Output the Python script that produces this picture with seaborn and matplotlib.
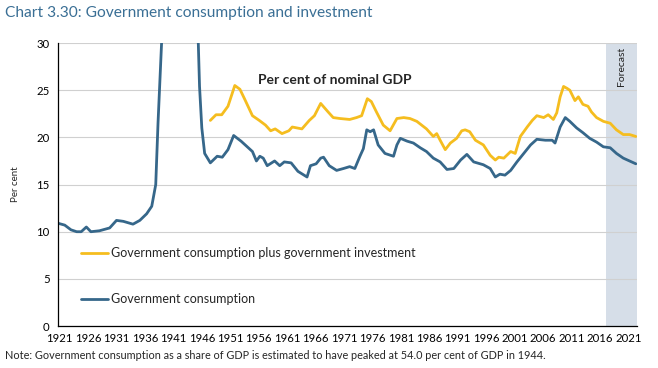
import numpy as np
import pandas as pd
import matplotlib
matplotlib.use("Agg")
import matplotlib.pyplot as plt
import seaborn as sns
from matplotlib.ticker import MultipleLocator

# government consumption, per cent of nominal GDP
gc_year = [1920.7, 1921.9, 1923.0, 1924.0, 1924.8, 1925.7, 1926.5, 1928.0, 1929.8, 1931.0,
           1932.2, 1933.9, 1935.1, 1936.3, 1937.2, 1937.9, 1938.3, 1939.0, 1940.0, 1941.0,
           1942.0, 1943.0, 1944.0, 1945.0, 1945.6, 1946.0, 1946.5, 1947.5, 1948.7, 1949.6,
           1950.6, 1951.6, 1952.9, 1954.9, 1955.6, 1956.2, 1956.8, 1957.5, 1958.8, 1959.7,
           1960.5, 1961.7, 1962.9, 1964.5, 1965.1, 1966.1, 1966.9, 1967.4, 1968.4, 1969.7,
           1970.9, 1972.0, 1972.9, 1973.8, 1974.4, 1975.0, 1975.6, 1976.2, 1977.0, 1978.2,
           1979.7, 1980.3, 1980.9, 1982.1, 1983.2, 1984.4, 1985.5, 1986.7, 1987.9, 1989.1,
           1990.3, 1991.5, 1992.6, 1993.8, 1995.5, 1996.7, 1997.6, 1998.4, 1999.3, 2000.3,
           2001.4, 2002.6, 2003.8, 2004.9, 2006.4, 2007.6, 2008.1, 2009.0, 2009.9, 2010.7,
           2011.9, 2013.0, 2014.2, 2015.4, 2016.6, 2017.8, 2018.9, 2020.1, 2022.3]
gc_val = [10.9, 10.7, 10.2, 10.0, 10.0, 10.5, 10.0, 10.1, 10.4, 11.2,
          11.1, 10.8, 11.2, 11.9, 12.7, 15.0, 21.5, 31.0, 45.0, 52.0,
          53.0, 53.5, 54.0, 38.0, 25.4, 21.0, 18.3, 17.3, 18.0, 17.9,
          18.7, 20.2, 19.6, 18.5, 17.5, 18.0, 17.8, 17.0, 17.5, 17.0,
          17.4, 17.3, 16.4, 15.8, 17.0, 17.2, 17.8, 17.9, 17.0, 16.5,
          16.7, 16.9, 16.7, 18.0, 18.8, 20.8, 20.6, 20.8, 19.2, 18.3,
          18.0, 19.2, 19.9, 19.6, 19.4, 18.9, 18.5, 17.8, 17.4, 16.6,
          16.7, 17.6, 18.2, 17.4, 17.1, 16.7, 15.8, 16.1, 16.0, 16.5,
          17.4, 18.3, 19.2, 19.8, 19.7, 19.7, 19.4, 21.1, 22.1, 21.7,
          21.0, 20.5, 19.9, 19.5, 19.0, 18.9, 18.3, 17.8, 17.2]

# government consumption plus government investment
gci_year = [1947.5, 1948.5, 1949.5, 1950.6, 1951.8, 1952.7, 1953.5, 1954.9, 1956.1, 1957.2,
            1958.1, 1958.9, 1960.1, 1961.3, 1961.9, 1963.6, 1964.9, 1965.8, 1966.9, 1968.2,
            1969.1, 1970.3, 1972.0, 1973.2, 1974.1, 1975.1, 1975.8, 1976.7, 1977.9, 1979.1,
            1980.3, 1981.5, 1982.6, 1983.8, 1985.5, 1986.7, 1987.3, 1987.9, 1988.8, 1989.7,
            1990.8, 1991.7, 1992.3, 1993.1, 1994.1, 1995.5, 1996.7, 1997.6, 1998.2, 1999.1,
            2000.3, 2001.1, 2002.0, 2003.2, 2004.1, 2004.9, 2006.1, 2006.9, 2007.8, 2008.4,
            2009.0, 2009.6, 2010.2, 2010.7, 2011.6, 2012.2, 2013.0, 2013.9, 2014.5, 2015.4,
            2016.6, 2017.8, 2018.9, 2020.1, 2021.2, 2022.3]
gci_val = [21.8, 22.4, 22.4, 23.3, 25.5, 25.1, 24.1, 22.3, 21.8, 21.3,
           20.7, 20.9, 20.4, 20.7, 21.1, 20.9, 21.8, 22.3, 23.6, 22.7,
           22.1, 22.0, 21.9, 22.1, 22.3, 24.1, 23.8, 22.7, 21.3, 20.7,
           22.0, 22.1, 22.0, 21.7, 20.9, 20.1, 20.4, 19.7, 18.7, 19.4,
           19.9, 20.7, 20.8, 20.6, 19.7, 19.2, 18.1, 17.6, 17.9, 17.8,
           18.5, 18.3, 20.1, 21.1, 21.8, 22.3, 22.1, 22.4, 21.9, 22.6,
           24.3, 25.4, 25.2, 25.0, 23.9, 24.3, 23.5, 23.3, 22.7, 22.1,
           21.7, 21.5, 20.8, 20.3, 20.3, 20.1]

label_gci = "Government consumption plus government investment"
label_gc = "Government consumption"

df = pd.concat([
    pd.DataFrame({"Year": gci_year, "Value": gci_val, "Series": label_gci}),
    pd.DataFrame({"Year": gc_year, "Value": gc_val, "Series": label_gc}),
])

sns.set_style("white")
plt.rcParams["font.family"] = ["Lato", "DejaVu Sans"]

fig = plt.figure(figsize=(6.58, 3.68), dpi=100)
ax = fig.add_axes([0.088, 0.114, 0.880, 0.769])

ax.axvspan(2017.1, 2023, color="#d6dee8", lw=0, zorder=0)
ax.text(2019.8, 29.6, "Forecast", rotation=90, ha="center", va="top", fontsize=7.5, color="#222222")

sns.lineplot(data=df, x="Year", y="Value", hue="Series",
             palette={label_gci: "#f5bd1f", label_gc: "#36678a"},
             linewidth=2, ax=ax, sort=False)

ax.set_xlim(1920.7, 2022.5)
ax.set_ylim(0, 30)
ax.set_yticks(range(0, 31, 5))
ax.set_xticks(range(1921, 2022, 5))
ax.xaxis.set_minor_locator(MultipleLocator(1.25))
ax.tick_params(axis="both", which="both", direction="out", length=3, width=0.8,
               labelsize=8.2, colors="#000000", pad=2)
ax.tick_params(axis="y", length=4)
ax.grid(axis="y", color="#d0d0d0", linewidth=0.8)
ax.set_axisbelow(True)
for s in ["top", "right"]:
    ax.spines[s].set_visible(False)
for s in ["left", "bottom"]:
    ax.spines[s].set_color("#000000")
    ax.spines[s].set_linewidth(0.9)

ax.set_xlabel("")
ax.set_ylabel("Per cent", fontsize=7, labelpad=12)

ax.text(0.345, 0.87, "Per cent of nominal GDP", transform=ax.transAxes,
        fontsize=10, fontweight="bold", ha="left", va="center")

ax.legend(loc="lower left", bbox_to_anchor=(0.02, 0.035), frameon=False,
          fontsize=9, handlelength=2.2, handletextpad=0.2, labelspacing=2.7)

fig.text(0.008, 0.965, "Chart 3.30: Government consumption and investment",
         fontsize=11.2, color="#3a6f95", ha="left", va="center")
fig.text(0.008, 0.035, "Note: Government consumption as a share of GDP is estimated to have peaked at 54.0 per cent of GDP in 1944.",
         fontsize=7.8, ha="left", va="center")

plt.savefig("out.png", dpi=100)
